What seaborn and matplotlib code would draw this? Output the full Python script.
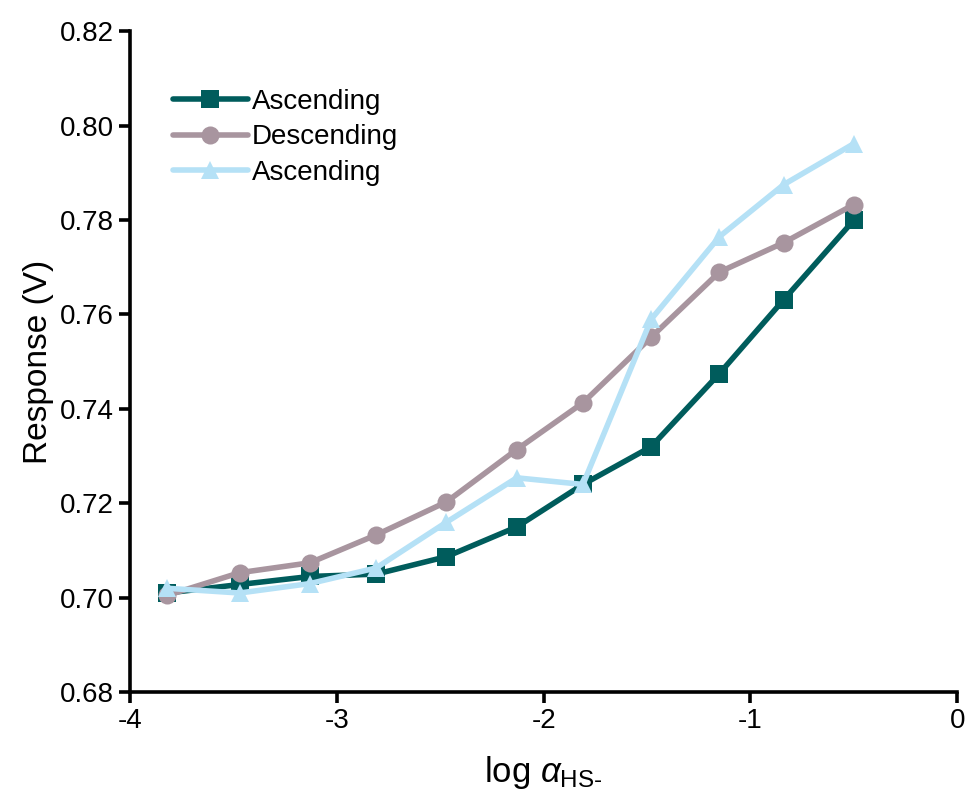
import matplotlib
matplotlib.use("Agg")
import matplotlib.pyplot as plt
import seaborn as sns
import pandas as pd

# log concentration (x) and response in volts for the three sweeps
log_alpha = [-3.82, -3.47, -3.13, -2.81, -2.47, -2.13, -1.81, -1.48, -1.15, -0.84, -0.50]
asc1 = [0.701, 0.7028, 0.7045, 0.705, 0.7087, 0.715, 0.724, 0.732, 0.7475, 0.7631, 0.780]
desc = [0.7005, 0.7053, 0.7074, 0.7133, 0.7203, 0.7314, 0.7413, 0.7552, 0.769, 0.7752, 0.7833]
asc2 = [0.702, 0.701, 0.703, 0.7063, 0.716, 0.7254, 0.724, 0.759, 0.7765, 0.7875, 0.7962]
labels = ["Ascending", "Descending", "Ascending"]
colors = ["#005c5c", "#a8959f", "#b5e1f6"]
markers = ["s", "o", "^"]

sns.set_style("ticks")
plt.rcParams['font.family'] = ['Liberation Sans', 'DejaVu Sans']
plt.rcParams['mathtext.fontset'] = 'custom'
plt.rcParams['mathtext.rm'] = 'Liberation Sans'
plt.rcParams['mathtext.it'] = 'Liberation Sans:italic'

fig = plt.figure(figsize=(9.66, 8.02), dpi=100)
ax = fig.add_axes([0.1346, 0.137, 0.8564, 0.824])

for ys, lab, c, m in zip([asc1, desc, asc2], labels, colors, markers):
    df = pd.DataFrame({"x": log_alpha, "y": ys})
    sns.lineplot(data=df, x="x", y="y", ax=ax, color=c, marker=m, markersize=13,
                 markeredgewidth=0, linewidth=4, label=lab)

ax.set_xlim(-4, 0)
ax.set_ylim(0.68, 0.82)
ax.set_xticks([-4, -3, -2, -1, 0])
ax.set_xticklabels(["-4", "-3", "-2", "-1", "0"])
ax.set_yticks([0.68, 0.70, 0.72, 0.74, 0.76, 0.78, 0.80, 0.82])
ax.set_yticklabels(["0.68", "0.70", "0.72", "0.74", "0.76", "0.78", "0.80", "0.82"])
ax.tick_params(axis="both", labelsize=20, width=2.6, length=8, direction="out", colors="black")
for s in ["left", "bottom"]:
    ax.spines[s].set_linewidth(2.6)
    ax.spines[s].set_color("black")
sns.despine(ax=ax, top=True, right=True)

ax.set_ylabel("Response (V)", fontsize=24, color="black")
ax.set_xlabel(r"log $\alpha_{\mathrm{HS}\text{-}}$", fontsize=25, color="black", labelpad=14)

leg = ax.legend(loc="upper left", bbox_to_anchor=(0.038, 0.93), frameon=False, fontsize=20,
                handlelength=2.7, handletextpad=0.15, labelspacing=0.35, borderaxespad=0)
for t in leg.get_texts():
    t.set_color("black")

fig.savefig("out.png", dpi=100)
